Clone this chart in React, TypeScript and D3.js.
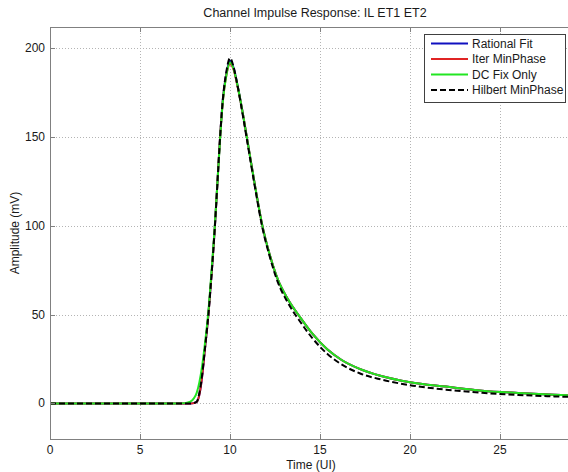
import React, {useRef, useEffect} from 'react';
import * as d3 from 'd3';

// sample times (UI) shared by all four responses
const times = [0, 2, 4, 6, 7, 7.5, 7.8, 8.0, 8.15, 8.3, 8.45, 8.6, 8.8, 9.0, 9.15, 9.3, 9.45, 9.6, 9.8, 10.0, 10.2, 10.4, 10.7, 11.0, 11.4, 11.8, 12.2, 12.65, 13.2, 13.9, 14.6, 15.4, 16.2, 17.2, 18.4, 20, 22, 24, 26, 28, 30];

const rationalFit = [0, 0, 0, 0, 0, 0, 0, 0.2, 0.8, 5, 15, 30, 50, 76, 98, 124, 150, 171, 186, 193, 189, 180, 164, 146, 122, 100, 84, 70, 59, 48.5, 39, 30.5, 24.5, 19.5, 15.5, 12, 9.5, 7.2, 5.9, 4.9, 4.2];
const iterMinPhase = [0, 0, 0, 0, 0, 0, 0, 0.2, 0.8, 5, 15, 30, 50, 76, 98, 124, 150, 170, 185, 191, 188, 179.5, 164, 146, 122, 100, 84, 70, 59, 48.5, 39, 30.5, 24.5, 19.5, 15.5, 12, 9.5, 7.2, 5.9, 4.9, 4.2];
const dcFixOnly = [0, 0, 0, 0, 0, 0.2, 1, 3, 6, 12, 21, 33, 52, 78, 99, 124, 149, 170, 185, 192, 188.5, 180, 164, 146, 122, 100, 84, 70, 59, 48.5, 39, 30.5, 24.5, 19.5, 15.5, 12, 9.5, 7.2, 5.9, 4.9, 4.2];
const hilbertMinPhase = [0, 0, 0, 0, 0, 0, 0, 0.3, 1, 6, 16, 30, 50, 76, 98, 124, 150, 171, 187, 194.5, 189.5, 180, 163, 145, 121, 99, 83, 68.5, 57, 46, 36.5, 28, 22, 17, 13.5, 10.3, 7.8, 6, 4.8, 4, 3.4];

const seriesNames = ['Rational Fit', 'Iter MinPhase', 'DC Fix Only', 'Hilbert MinPhase'];
const seriesColors = ['#1010c0', '#e02424', '#22e622', '#000000'];
const seriesDash = [null, null, null, '6,3'];

const xTicks = [0, 5, 10, 15, 20, 25];
const yTicks = [0, 50, 100, 150, 200];

const App = () => {
    const svgRef = useRef();
    const width = 568, height = 472;
    const font = 'Liberation Sans, Arial, sans-serif';

    useEffect(() => {
        const svg = d3.select(svgRef.current);
        svg.selectAll('*').remove();

        const x = d3.scaleLinear().domain([0, 29.5]).range([50, 50 + 29.5 * 18]);
        const y = d3.scaleLinear().domain([-20, 212]).range([439, 27]);
        const left = x.range()[0], right = x.range()[1];
        const top = y.range()[1], bottom = y.range()[0];

        svg.append('rect').attr('x', 0).attr('y', 0).attr('width', width).attr('height', height).attr('fill', '#fff');

        // dotted grid
        const grid = svg.append('g').attr('stroke', '#b4b4b4').attr('stroke-dasharray', '1,2').attr('stroke-width', 1);
        xTicks.forEach(t => {
            grid.append('line').attr('x1', x(t) + 0.5).attr('x2', x(t) + 0.5).attr('y1', top).attr('y2', bottom);
        });
        yTicks.forEach(t => {
            grid.append('line').attr('x1', left).attr('x2', right).attr('y1', Math.round(y(t)) + 0.5).attr('y2', Math.round(y(t)) + 0.5);
        });

        // curves
        const clip = svg.append('clipPath').attr('id', 'plotclip');
        clip.append('rect').attr('x', left).attr('y', top).attr('width', right - left).attr('height', bottom - top);

        const allSeries = [rationalFit, iterMinPhase, dcFixOnly, hilbertMinPhase];
        const line = d3.line()
            .x((d, i) => x(times[i]))
            .y(d => y(d))
            .curve(d3.curveMonotoneX);

        const lines = svg.append('g').attr('clip-path', 'url(#plotclip)');
        allSeries.forEach((s, k) => {
            lines.append('path')
                .attr('d', line(s))
                .attr('fill', 'none')
                .attr('stroke', seriesColors[k])
                .attr('stroke-width', 2)
                .attr('stroke-dasharray', seriesDash[k]);
        });

        // axes box + ticks
        const axis = svg.append('g').attr('stroke', '#808080').attr('stroke-width', 1).attr('fill', 'none');
        axis.append('rect').attr('x', left + 0.5).attr('y', top + 0.5).attr('width', right - left).attr('height', bottom - top);
        xTicks.forEach(t => {
            const xx = x(t) + 0.5;
            axis.append('line').attr('x1', xx).attr('x2', xx).attr('y1', bottom).attr('y2', bottom - 5);
            axis.append('line').attr('x1', xx).attr('x2', xx).attr('y1', top).attr('y2', top + 5);
        });
        yTicks.forEach(t => {
            const yy = Math.round(y(t)) + 0.5;
            axis.append('line').attr('x1', left).attr('x2', left + 5).attr('y1', yy).attr('y2', yy);
        });

        const txt = svg.append('g').attr('font-family', font).attr('font-size', 12).attr('fill', '#1a1a1a');
        xTicks.forEach(t => {
            txt.append('text').attr('x', x(t)).attr('y', 454).attr('text-anchor', 'middle').text(t);
        });
        yTicks.forEach(t => {
            txt.append('text').attr('x', 45).attr('y', y(t) + 4).attr('text-anchor', 'end').text(t);
        });

        txt.append('text').attr('x', 315).attr('y', 17).attr('font-size', 12.5).attr('text-anchor', 'middle').text('Channel Impulse Response: IL ET1 ET2');
        txt.append('text').attr('x', 311).attr('y', 469).attr('text-anchor', 'middle').text('Time (UI)');
        txt.append('text').attr('transform', 'translate(19,233) rotate(-90)').attr('text-anchor', 'middle').text('Amplitude (mV)');

        // legend
        const legend = svg.append('g');
        legend.append('rect').attr('x', 424.5).attr('y', 34.5).attr('width', 141).attr('height', 68)
            .attr('fill', '#fff').attr('stroke', '#404040');
        seriesNames.forEach((name, k) => {
            const ly = 43.5 + k * 15.5;
            legend.append('line').attr('x1', 431).attr('x2', 468).attr('y1', ly).attr('y2', ly)
                .attr('stroke', seriesColors[k]).attr('stroke-width', 2).attr('stroke-dasharray', seriesDash[k]);
            legend.append('text').attr('x', 472).attr('y', ly + 4).attr('font-family', font).attr('font-size', 12)
                .attr('fill', '#1a1a1a').text(name);
        });
    }, []);

    return <svg ref={svgRef} width={width} height={height} style={{position: 'absolute', left: 0, top: 0}}/>;
};

export default App;
